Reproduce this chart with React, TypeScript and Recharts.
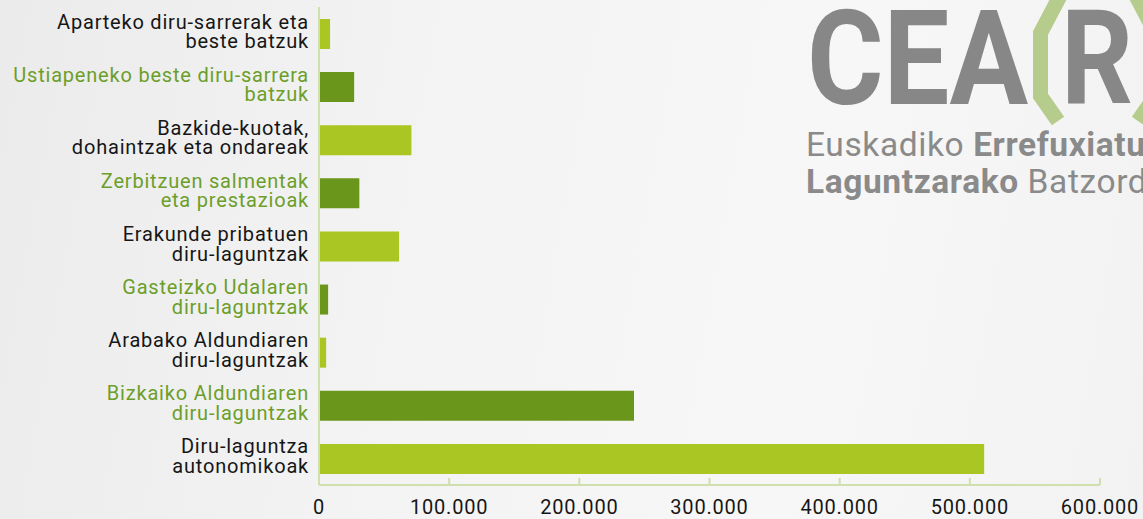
import React from "react";
import { BarChart, Bar, XAxis, YAxis, Cell } from "recharts";

const categories = [
  "Aparteko diru-sarrerak eta\nbeste batzuk",
  "Ustiapeneko beste diru-sarrera\nbatzuk",
  "Bazkide-kuotak,\ndohaintzak eta ondareak",
  "Zerbitzuen salmentak\neta prestazioak",
  "Erakunde pribatuen\ndiru-laguntzak",
  "Gasteizko Udalaren\ndiru-laguntzak",
  "Arabako Aldundiaren\ndiru-laguntzak",
  "Bizkaiko Aldundiaren\ndiru-laguntzak",
  "Diru-laguntza\nautonomikoak",
];
const values = [8500, 27000, 71000, 31000, 61500, 7000, 5500, 242000, 511000];
const xTicks = [0, 100000, 200000, 300000, 400000, 500000, 600000];

const LIGHT = "#aac623";
const DARK = "#6a961b";
const AXIS = "#cfe0ad";
const FONT = "Roboto, sans-serif";

const data = categories.map((c, i) => ({ name: c, value: values[i] }));

const fmt = (v: number) => v.toLocaleString("de-DE");

const YTick = (props: any) => {
  const { x, y, payload, index } = props;
  const lines = String(payload.value).split("\n");
  const green = index % 2 === 1;
  return (
    <text
      x={x}
      y={y}
      textAnchor="end"
      fontFamily={FONT}
      fontSize={20}
      letterSpacing={0.8}
      fill={green ? "#6c9e2a" : "#161616"}
    >
      {lines.map((l: string, i: number) => (
        <tspan key={i} x={x} y={y - 5 + i * 19.5}>
          {l}
        </tspan>
      ))}
    </text>
  );
};

const XTick = (props: any) => {
  const { x, y, payload } = props;
  return (
    <g>
      <line x1={x} x2={x} y1={y - 7} y2={y} stroke={AXIS} strokeWidth={2} />
      <text
        x={x}
        y={y + 29}
        textAnchor="middle"
        fontFamily={FONT}
        fontSize={20}
        letterSpacing={0.8}
        fill="#161616"
      >
        {fmt(payload.value)}
      </text>
    </g>
  );
};

const Logo = () => (
  <svg
    width={1143}
    height={519}
    style={{ position: "absolute", left: 0, top: 0, pointerEvents: "none" }}
  >
    <text
      x={807}
      y={104}
      fontFamily={FONT}
      fontWeight={700}
      fontSize={131}
      fill="#878787"
      textLength={221}
      lengthAdjust="spacingAndGlyphs"
    >
      CEA
    </text>
    <polyline
      points="1061,-6 1040.5,33 1040.5,96 1058,121"
      fill="none"
      stroke="#b6cc8c"
      strokeWidth={15}
      strokeLinejoin="miter"
    />
    <text
      x={1061}
      y={104}
      fontFamily={FONT}
      fontWeight={700}
      fontSize={131}
      fill="#878787"
      textLength={72}
      lengthAdjust="spacingAndGlyphs"
    >
      R
    </text>
    <polyline
      points="1135,-6 1155.5,33 1155.5,96 1138,121"
      fill="none"
      stroke="#b6cc8c"
      strokeWidth={15}
      strokeLinejoin="miter"
    />
    <text x={806} y={156} fontFamily={FONT} fontSize={33.5} letterSpacing={0.6} fill="#8a8a8a">
      <tspan>Euskadiko </tspan>
      <tspan fontWeight={700}>Errefuxiatuekiko</tspan>
    </text>
    <text x={806} y={193} fontFamily={FONT} fontSize={33.5} letterSpacing={0.6} fill="#8a8a8a">
      <tspan fontWeight={700}>Laguntzarako</tspan>
      <tspan> Batzordea</tspan>
    </text>
  </svg>
);

export default function App() {
  return (
    <div
      style={{
        position: "absolute",
        left: 0,
        top: 0,
        width: 1143,
        height: 519,
        overflow: "hidden",
        background: "linear-gradient(100deg, #ebebeb 0%, #f3f3f3 35%, #f7f7f7 70%, #f2f2f2 100%)",
      }}
    >
      <Logo />
      <div style={{ position: "absolute", left: 0, top: 0 }}>
        <BarChart
          width={1143}
          height={519}
          data={data}
          layout="vertical"
          margin={{ top: 7, right: 43, bottom: 0, left: 0 }}
        >
          <XAxis
            type="number"
            domain={[0, 600000]}
            ticks={xTicks}
            interval={0}
            height={34}
            tickLine={false}
            tickSize={0}
            tickMargin={0}
            axisLine={{ stroke: AXIS, strokeWidth: 2 }}
            tick={<XTick />}
          />
          <YAxis
            type="category"
            dataKey="name"
            width={319}
            tickLine={false}
            tickSize={0}
            tickMargin={10}
            interval={0}
            axisLine={{ stroke: AXIS, strokeWidth: 2 }}
            tick={<YTick />}
          />
          <Bar dataKey="value" barSize={30} isAnimationActive={false}>
            {data.map((d, i) => (
              <Cell key={i} fill={i % 2 === 0 ? LIGHT : DARK} />
            ))}
          </Bar>
        </BarChart>
      </div>
    </div>
  );
}
